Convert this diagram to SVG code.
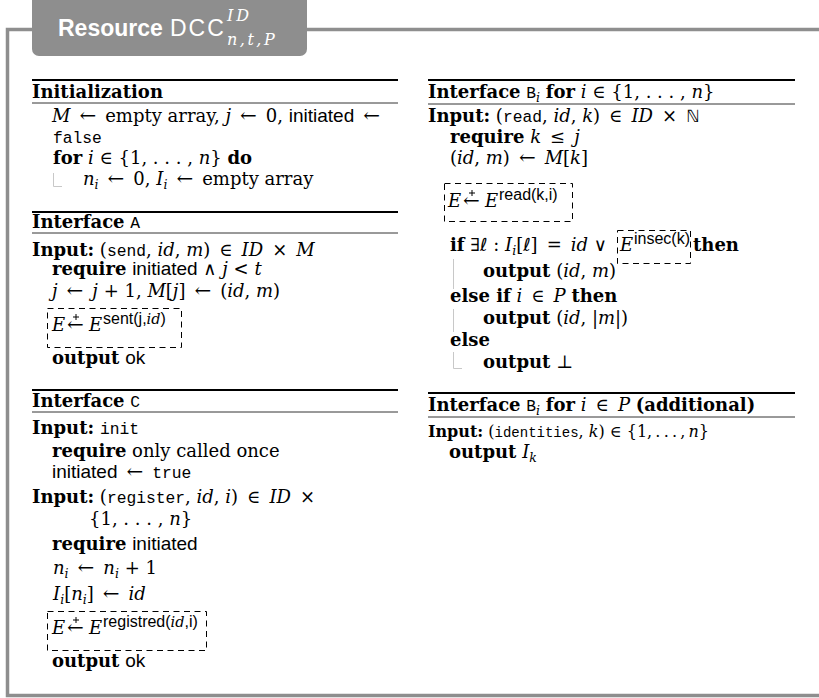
<svg xmlns="http://www.w3.org/2000/svg" width="819" height="698" viewBox="0 0 819 698">
<style>
  .frame { fill: none; stroke: #8e8e8e; stroke-width: 3.5 }
  .tab { fill: #8e8e8e }
  .title { font-family: "Liberation Sans", Arial, sans-serif; fill: #ffffff; font-size: 23px }
  .tmath { font-family: "DejaVu Serif", serif; font-style: italic; fill: #ffffff; font-size: 16px }
  .rt { stroke: #000; stroke-width: 1.8 }
  .rs { stroke: #000; stroke-width: 0.8 }
  text { font-family: "DejaVu Serif", "DejaVu Sans", serif; font-size: 18px; fill: #000 }
  .b { font-weight: bold }
  .i { font-style: italic }
  .ar { font-size: 20px }
  .tt { font-family: "Liberation Mono", "DejaVu Sans Mono", monospace; font-size: 16.3px; font-weight: normal; font-style: normal }
  .sf { font-family: "Liberation Sans", "DejaVu Sans", sans-serif; font-size: 19px }
  .bb { font-family: "DejaVu Sans", sans-serif; font-size: 17px }
  .sub { font-size: 12.5px; baseline-shift: -4px }
  .supsf { font-family: "Liberation Sans", "DejaVu Sans", sans-serif; font-size: 16px }
  .supi { font-style: italic; font-size: 14.5px }
  .plus { fill: none; stroke: #000; stroke-width: 1 }
  .dash { fill: none; stroke: #000; stroke-width: 1; stroke-dasharray: 6 4.5 }
  .guide { fill: none; stroke: #c8c8c8; stroke-width: 1 }
  .tight { font-size: 16px }
  .tight .tt { font-size: 14px }
</style>
<defs>
  <!-- small plus stacked over the update arrow -->
  <path id="plus-mark" class="plus" d="M-3 0 H3 M0 -3 V3"/>
</defs>

<!-- outer frame and title tab -->
<g id="frame">
  <path class="frame" d="M819 29.5 H7.5 V695.5 H819"/>
  <rect class="tab" x="32" y="-8" width="275" height="64" rx="7"/>
  <text class="title" x="58" y="36" font-weight="bold">Resource</text>
  <text class="title" x="170" y="36" letter-spacing="2">DCC</text>
  <text class="tmath" x="227" y="21" letter-spacing="3">ID</text>
  <text class="tmath" x="227" y="45" letter-spacing="2.5">n,t,P</text>
</g>

<!-- left column -->
<g id="initialization">
  <line class="rt" x1="32" y1="80" x2="398" y2="80"/>
  <text x="32" y="98" class="b">Initialization</text>
  <line class="rs" x1="32" y1="103" x2="398" y2="103"/>
  <text x="52" y="122"><tspan class="i">M</tspan>&#8194;<tspan class="ar">←</tspan>&#8194;empty array, <tspan class="i">j</tspan>&#8194;<tspan class="ar">←</tspan>&#8194;0, <tspan class="sf">initiated</tspan>&#8194;<tspan class="ar">←</tspan></text>
  <text x="53" y="143" class="tt">false</text>
  <text x="53" y="164"><tspan class="b">for</tspan> <tspan class="i">i</tspan> ∈ {1, . . . , <tspan class="i">n</tspan>} <tspan class="b">do</tspan></text>
  <path class="guide" d="M53.5 173 V186.5 H62"/>
  <text x="83" y="185"><tspan class="i">n</tspan><tspan class="i sub">i</tspan>&#8194;<tspan class="ar">←</tspan>&#8194;0, <tspan class="i">I</tspan><tspan class="i sub">i</tspan>&#8194;<tspan class="ar">←</tspan>&#8194;empty array</text>
</g>

<g id="interface-a">
  <line class="rt" x1="32" y1="212" x2="398" y2="212"/>
  <text x="32" y="228"><tspan class="b">Interface</tspan> <tspan class="tt">A</tspan></text>
  <line class="rs" x1="32" y1="233" x2="398" y2="233"/>
  <text x="32" y="256"><tspan class="b">Input:</tspan> (<tspan class="tt">send</tspan>, <tspan class="i">id</tspan>, <tspan class="i">m</tspan>)&#8194;∈&#8194;<tspan class="i">ID</tspan>&#8194;×&#8194;<tspan class="i">M</tspan></text>
  <text x="52" y="275"><tspan class="b">require</tspan> <tspan class="sf">initiated</tspan> ∧ <tspan class="i">j</tspan> &lt; <tspan class="i">t</tspan></text>
  <text x="52" y="297"><tspan class="i">j</tspan>&#8194;<tspan class="ar">←</tspan>&#8194;<tspan class="i">j</tspan> + 1, <tspan class="i">M</tspan>[<tspan class="i">j</tspan>]&#8194;<tspan class="ar">←</tspan>&#8194;(<tspan class="i">id</tspan>, <tspan class="i">m</tspan>)</text>
  <rect class="dash" x="47.5" y="308.5" width="134" height="39"/>
  <text y="331"><tspan x="52" class="i">E</tspan><tspan x="67" class="ar">←</tspan><tspan x="89" class="i">E</tspan><tspan x="103" y="324" class="supsf">sent(j,</tspan><tspan class="supi">id</tspan><tspan class="supsf">)</tspan></text>
  <use href="#plus-mark" x="76" y="317"/>
  <text x="52" y="364"><tspan class="b">output</tspan> <tspan class="sf">ok</tspan></text>
</g>

<g id="interface-c">
  <line class="rt" x1="32" y1="390" x2="398" y2="390"/>
  <text x="32" y="407"><tspan class="b">Interface</tspan> <tspan class="tt">C</tspan></text>
  <line class="rs" x1="32" y1="412" x2="398" y2="412"/>
  <text x="32" y="434"><tspan class="b">Input:</tspan> <tspan class="tt">init</tspan></text>
  <text x="52" y="457"><tspan class="b">require</tspan> only called once</text>
  <text x="52" y="478"><tspan class="sf">initiated</tspan>&#8194;<tspan class="ar">←</tspan>&#8194;<tspan class="tt">true</tspan></text>
  <text x="32" y="503"><tspan class="b">Input:</tspan> (<tspan class="tt">register</tspan>, <tspan class="i">id</tspan>, <tspan class="i">i</tspan>)&#8194;∈&#8194;<tspan class="i">ID</tspan>&#8194;×</text>
  <text x="89" y="525">{1, . . . , <tspan class="i">n</tspan>}</text>
  <text x="52" y="550"><tspan class="b">require</tspan> <tspan class="sf">initiated</tspan></text>
  <text x="53" y="574"><tspan class="i">n</tspan><tspan class="i sub">i</tspan>&#8194;<tspan class="ar">←</tspan>&#8194;<tspan class="i">n</tspan><tspan class="i sub">i</tspan> + 1</text>
  <text x="53" y="600"><tspan class="i">I</tspan><tspan class="i sub">i</tspan>[<tspan class="i">n</tspan><tspan class="i sub">i</tspan>]&#8194;<tspan class="ar">←</tspan>&#8194;<tspan class="i">id</tspan></text>
  <rect class="dash" x="47.5" y="611.5" width="159" height="39"/>
  <text y="634"><tspan x="52" class="i">E</tspan><tspan x="67" class="ar">←</tspan><tspan x="89" class="i">E</tspan><tspan x="103" y="627" class="supsf">registred(</tspan><tspan class="supi">id</tspan><tspan class="supsf">,i)</tspan></text>
  <use href="#plus-mark" x="76" y="620"/>
  <text x="52" y="667"><tspan class="b">output</tspan> <tspan class="sf">ok</tspan></text>
</g>

<!-- right column -->
<g id="interface-b">
  <line class="rt" x1="428" y1="80" x2="795" y2="80"/>
  <text x="428" y="98"><tspan class="b">Interface</tspan> <tspan class="tt">B</tspan><tspan class="i sub">i</tspan> <tspan class="b">for</tspan> <tspan class="i">i</tspan> ∈ {1, . . . , <tspan class="i">n</tspan>}</text>
  <line class="rs" x1="428" y1="104" x2="795" y2="104"/>
  <text x="428" y="122"><tspan class="b">Input:</tspan> (<tspan class="tt">read</tspan>, <tspan class="i">id</tspan>, <tspan class="i">k</tspan>)&#8194;∈&#8194;<tspan class="i">ID</tspan>&#8194;×&#8194;<tspan class="bb">ℕ</tspan></text>
  <text x="450" y="143"><tspan class="b">require</tspan> <tspan class="i">k</tspan>&#8194;≤&#8194;<tspan class="i">j</tspan></text>
  <text x="450" y="164">(<tspan class="i">id</tspan>, <tspan class="i">m</tspan>)&#8194;<tspan class="ar">←</tspan>&#8194;<tspan class="i">M</tspan>[<tspan class="i">k</tspan>]</text>
  <rect class="dash" x="444.5" y="183.5" width="128" height="38"/>
  <text y="207"><tspan x="448" class="i">E</tspan><tspan x="463" class="ar">←</tspan><tspan x="485" class="i">E</tspan><tspan x="499" y="200" class="supsf">read(k,i)</tspan></text>
  <use href="#plus-mark" x="472" y="193"/>

  <text x="450" y="251"><tspan class="b">if</tspan> ∃ℓ : <tspan class="i">I</tspan><tspan class="i sub">i</tspan>[ℓ]&#8194;=&#8194;<tspan class="i">id</tspan> ∨</text>
  <rect class="dash" x="617.5" y="230.5" width="73" height="33"/>
  <text y="251"><tspan x="620" class="i">E</tspan><tspan x="634" y="244" class="supsf">insec(k)</tspan></text>
  <text x="693" y="251" class="b">then</text>
  <line class="guide" x1="453.5" y1="259" x2="453.5" y2="289"/>
  <text x="483" y="277"><tspan class="b">output</tspan> (<tspan class="i">id</tspan>, <tspan class="i">m</tspan>)</text>
  <text x="450" y="302"><tspan class="b">else if</tspan> <tspan class="i">i</tspan>&#8194;∈&#8194;<tspan class="i">P</tspan> <tspan class="b">then</tspan></text>
  <line class="guide" x1="453.5" y1="309" x2="453.5" y2="332"/>
  <text x="483" y="324"><tspan class="b">output</tspan> (<tspan class="i">id</tspan>, |<tspan class="i">m</tspan>|)</text>
  <text x="450" y="346" class="b">else</text>
  <path class="guide" d="M453.5 352 V368.5 H462"/>
  <text x="483" y="368"><tspan class="b">output</tspan> ⊥</text>
</g>

<g id="interface-b-additional">
  <line class="rt" x1="428" y1="393" x2="795" y2="393"/>
  <text x="428" y="411"><tspan class="b">Interface</tspan> <tspan class="tt">B</tspan><tspan class="i sub">i</tspan> <tspan class="b">for</tspan> <tspan class="i">i</tspan>&#8194;∈&#8194;<tspan class="i">P</tspan> <tspan class="b">(additional)</tspan></text>
  <line class="rs" x1="428" y1="417" x2="795" y2="417"/>
  <text x="428" y="437" class="tight"><tspan class="b">Input:</tspan> (<tspan class="tt">identities</tspan>, <tspan class="i">k</tspan>) ∈ {1,&#8201;.&#8201;.&#8201;.&#8201;,&#8201;<tspan class="i">n</tspan>}</text>
  <text x="449" y="458"><tspan class="b">output</tspan> <tspan class="i">I</tspan><tspan class="i sub">k</tspan></text>
</g>
</svg>
